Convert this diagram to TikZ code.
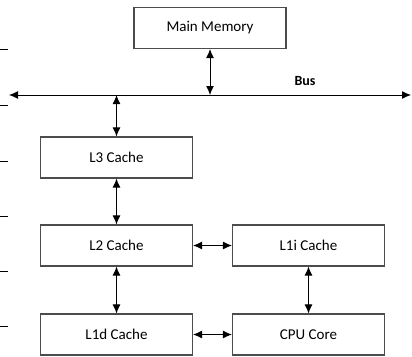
\documentclass[tikz,border=0pt]{standalone}
\usepackage{fontspec}
\setmainfont{Carlito}
\usetikzlibrary{positioning}
\usetikzlibrary{calc}
\usetikzlibrary{arrows.meta}

\tikzset{
  unit/.style={draw=black!70, line width=1.1pt, minimum width=152pt, minimum height=41pt, inner sep=0pt, font=\fontsize{15}{17}\selectfont},
  link/.style={{Latex[length=9pt,width=8pt]}-{Latex[length=9pt,width=8pt]}, line width=1pt},
}

\begin{document}
\begin{tikzpicture}[x=1pt, y=-1pt]

\useasboundingbox (0,0) rectangle (412,356);

\node[unit] (mem) at (210,28) {Main Memory};

% bus
\coordinate (busL) at (9,95);
\coordinate (busR) at (411,95);
\draw[link] (busL) -- (busR);
\node[font=\fontsize{14}{16}\selectfont\bfseries] (bus) at (305,81) {Bus};

\node[unit] (l3) at (116.5,157.5) {L3 Cache};
\node[unit] (l2) at (116.5,245.5) {L2 Cache};
\node[unit] (l1d) at (116.5,334.5) {L1d Cache};
\node[unit] (l1i) at (308.5,245.5) {L1i Cache};
\node[unit] (cpu) at (308.5,334.5) {CPU Core};

\draw[link] (mem.south) -- (mem.south |- busL);
\draw[link] (l3.north) -- (l3.north |- busL);
\draw[link] (l3) -- (l2);
\draw[link] (l2) -- (l1d);
\draw[link] (l2) -- (l1i);
\draw[link] (l1i) -- (cpu);
\draw[link] (l1d) -- (cpu);

% ticks on the left edge
\foreach \y in {49,105,161,216,271,326}
  \draw[line width=0.9pt] (0,\y) -- (8,\y);

\end{tikzpicture}
\end{document}
